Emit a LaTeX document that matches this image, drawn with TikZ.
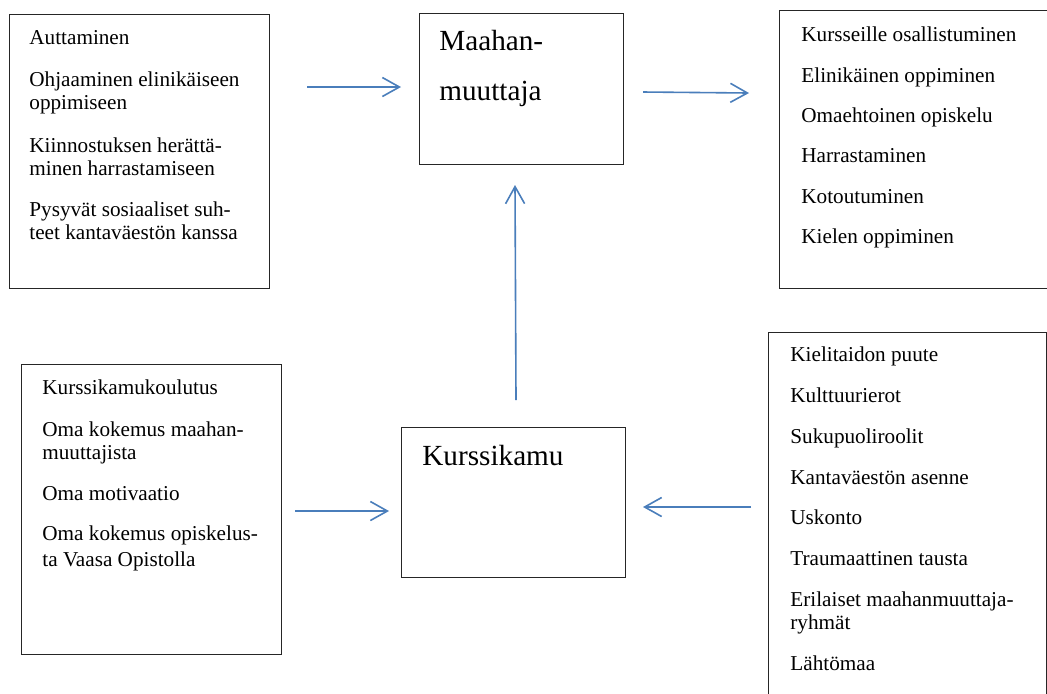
\documentclass[tikz,border=0pt]{standalone}
\usepackage{fontspec}
\setmainfont{Liberation Serif}
\usetikzlibrary{arrows.meta}
\tikzset{
  box/.style={draw=black!85, line width=0.6pt, inner sep=0pt, anchor=north west, fill=none},
  txt/.style={anchor=base west, inner sep=0pt, font=\fontsize{10.6pt}{12pt}\selectfont},
  bigtxt/.style={anchor=base west, inner sep=0pt, font=\fontsize{14.6pt}{16pt}\selectfont},
  arr/.style={draw={rgb,255:red,74;green,126;blue,187}, line width=0.8pt,
    -{Straight Barb[length=8.5pt,width=9.5pt,line width=0.8pt]}}
}
\begin{document}
\begin{tikzpicture}[x=0.5pt,y=-0.5pt]
\clip (0,0) rectangle (1047,693);
\fill[white] (0,0) rectangle (1047,693);

% boxes
\node[box, minimum width=130pt, minimum height=137pt] (b1) at (9,14) {};
\node[box, minimum width=102pt, minimum height=75.5pt] (maah) at (419,13) {};
\node[box, minimum width=140.5pt, minimum height=139pt] (tr) at (779,10) {};
\node[box, minimum width=130pt, minimum height=145pt] (bl) at (21,364) {};
\node[box, minimum width=112pt, minimum height=75pt] (kurs) at (401,427) {};
\node[box, minimum width=139pt, minimum height=189pt] (br) at (768,332) {};

% top-left texts
\node[txt] (t11) at (29,44) {Auttaminen};
\node[txt] (t12) at (29,86) {Ohjaaminen elinikäiseen};
\node[txt] (t13) at (29,109) {oppimiseen};
\node[txt] (t14) at (29,152) {Kiinnostuksen herättä-};
\node[txt] (t15) at (29,175) {minen harrastamiseen};
\node[txt] (t16) at (29,216) {Pysyvät sosiaaliset suh-};
\node[txt] (t17) at (29,239) {teet kantaväestön kanssa};

% Maahanmuuttaja
\node[bigtxt] (m1) at (439,50) {Maahan-};
\node[bigtxt] (m2) at (439,100) {muuttaja};

% top-right texts
\node[txt] (r1) at (801,41.5) {Kursseille osallistuminen};
\node[txt] (r2) at (801,82) {Elinikäinen oppiminen};
\node[txt] (r3) at (801,122) {Omaehtoinen opiskelu};
\node[txt] (r4) at (801,162.5) {Harrastaminen};
\node[txt] (r5) at (801,203) {Kotoutuminen};
\node[txt] (r6) at (801,243) {Kielen oppiminen};

% bottom-left texts
\node[txt] (l1) at (42,394) {Kurssikamukoulutus};
\node[txt] (l2) at (42,436) {Oma kokemus maahan-};
\node[txt] (l3) at (42,459) {muuttajista};
\node[txt] (l4) at (42,500.5) {Oma motivaatio};
\node[txt] (l5) at (42,540.5) {Oma kokemus opiskelus-};
\node[txt] (l6) at (42,566) {ta Vaasa Opistolla};

% Kurssikamu
\node[bigtxt] (k1) at (422,465.5) {Kurssikamu};

% bottom-right texts
\node[txt] (s1) at (790,361.5) {Kielitaidon puute};
\node[txt] (s2) at (790,402.5) {Kulttuurierot};
\node[txt] (s3) at (790,443) {Sukupuoliroolit};
\node[txt] (s4) at (790,484) {Kantaväestön asenne};
\node[txt] (s5) at (790,524.5) {Uskonto};
\node[txt] (s6) at (790,565) {Traumaattinen tausta};
\node[txt] (s7) at (790,606) {Erilaiset maahanmuuttaja-};
\node[txt] (s8) at (790,629) {ryhmät};
\node[txt] (s9) at (790,670.5) {Lähtömaa};

% arrow end points
\coordinate (a1s) at (307,87);
\coordinate (a1e) at (401,87);
\coordinate (a2s) at (643,92);
\coordinate (a2e) at (749,93);
\coordinate (a3s) at (516,400);
\coordinate (a3e) at (515,185);
\coordinate (a4s) at (295,511);
\coordinate (a4e) at (389,511);
\coordinate (a5s) at (751,507);
\coordinate (a5e) at (643,507);

\draw[arr] (a1s) -- (a1e);
\draw[arr] (a2s) -- (a2e);
\draw[arr] (a3s) -- (a3e);
\draw[arr] (a4s) -- (a4e);
\draw[arr] (a5s) -- (a5e);
\end{tikzpicture}
\end{document}
